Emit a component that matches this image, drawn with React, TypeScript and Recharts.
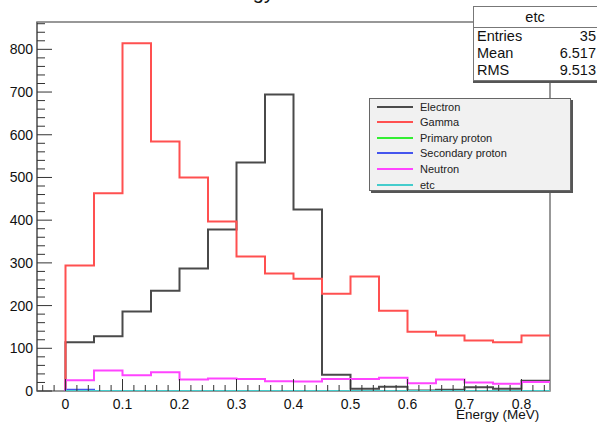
import React from 'react';
import { LineChart, Line, XAxis, YAxis, ReferenceArea } from 'recharts';

// lower edges of the 17 energy bins (MeV)
const binLowEdges = [0, 0.05, 0.1, 0.15, 0.2, 0.25, 0.3, 0.35, 0.4, 0.45, 0.5, 0.55, 0.6, 0.65, 0.7, 0.75, 0.8];
const binWidth = 0.05;

const electron = [114, 128, 186, 235, 287, 378, 535, 694, 425, 38, 5, 10, 1, 3, 9, 5, 24];
const gamma = [294, 463, 814, 584, 500, 397, 315, 275, 263, 228, 268, 188, 139, 130, 118, 114, 130];
const primaryProton = [0, 0, 0, 0, 0, 0, 0, 0, 0, 0, 0, 0, 0, 0, 0, 0, 0];
const secondaryProton = [3, 0, 0, 0, 0, 0, 0, 0, 0, 0, 0, 0, 0, 0, 0, 0, 0];
const neutron = [25, 48, 37, 44, 27, 29, 28, 23, 22, 28, 28, 31, 18, 27, 20, 17, 21];
const etc = [0, 0, 0, 0, 0, 0, 0, 0, 0, 0, 0, 0, 0, 0, 0, 0, 0];

const series = [
  { key: 'electron', name: 'Electron', color: '#4a4a4a', values: electron },
  { key: 'gamma', name: 'Gamma', color: '#ff5050', values: gamma },
  { key: 'primary', name: 'Primary proton', color: '#33ee33', values: primaryProton },
  { key: 'secondary', name: 'Secondary proton', color: '#4455ee', values: secondaryProton },
  { key: 'neutron', name: 'Neutron', color: '#ff44ff', values: neutron },
  { key: 'etc', name: 'etc', color: '#44cccc', values: etc },
];

const xLabels = [0, 0.1, 0.2, 0.3, 0.4, 0.5, 0.6, 0.7, 0.8];
const yLabels = [0, 100, 200, 300, 400, 500, 600, 700, 800];

const statsTitle = 'etc';
const statsRows = [
  ['Entries', '35'],
  ['Mean', '6.517'],
  ['RMS', '9.513'],
];

const xMin = -0.05;
const xMax = 0.85;
const yMax = 864;

// histogram outline: start at baseline on the first edge, step after each edge
const data: Record<string, number>[] = [];
{
  const first: Record<string, number> = { x: binLowEdges[0] };
  series.forEach((s) => (first[s.key] = 0));
  data.push(first);
  binLowEdges.forEach((edge, i) => {
    const row: Record<string, number> = { x: edge };
    series.forEach((s) => (row[s.key] = s.values[i]));
    data.push(row);
  });
  const last: Record<string, number> = { x: binLowEdges[binLowEdges.length - 1] + binWidth };
  series.forEach((s) => (last[s.key] = s.values[s.values.length - 1]));
  data.push(last);
}

const xTicks = Array.from({ length: 45 }, (_, i) => Math.round((-0.04 + i * 0.02) * 100) / 100);
const yTicks = Array.from({ length: 44 }, (_, i) => i * 20);

const font = '"Liberation Sans", Arial, Helvetica, sans-serif';

const XTick = (props: any) => {
  const { x, y, payload } = props;
  const v = payload.value;
  const major = xLabels.some((l) => Math.abs(l - v) < 1e-6);
  return (
    <g>
      <line x1={x} x2={x} y1={y} y2={y - (major ? 12 : 6)} stroke="#333" strokeWidth={1} />
      {major && (
        <text x={x} y={y + 18} textAnchor="middle" fontSize={14} fontFamily={font} fill="#111">
          {String(v)}
        </text>
      )}
    </g>
  );
};

const YTick = (props: any) => {
  const { x, y, payload } = props;
  const v = payload.value;
  const major = yLabels.includes(v);
  return (
    <g>
      <line x1={x} x2={x + (major ? 15 : 8)} y1={y} y2={y} stroke="#333" strokeWidth={1} />
      {major && (
        <text x={x - 4} y={y + 5} textAnchor="end" fontSize={14} fontFamily={font} fill="#111">
          {String(v)}
        </text>
      )}
    </g>
  );
};

export default function App() {
  return (
    <div
      style={{
        position: 'absolute',
        left: 0,
        top: 0,
        width: 597,
        height: 426,
        overflow: 'hidden',
        background: '#fff',
        fontFamily: font,
      }}
    >
      <div
        style={{
          position: 'absolute',
          left: 145,
          top: -18,
          fontSize: 20,
          lineHeight: '20px',
          whiteSpace: 'nowrap',
          color: '#111',
        }}
      >
        Kinetic Energy of Secondaries
      </div>

      <LineChart width={597} height={426} data={data} margin={{ top: 22, right: 47, bottom: 0, left: 0 }}>
        <XAxis
          dataKey="x"
          type="number"
          domain={[xMin, xMax]}
          ticks={xTicks}
          interval={0}
          allowDataOverflow
          height={35}
          tickSize={0}
          tickMargin={0}
          tickLine={false}
          axisLine={false}
          tick={<XTick />}
        />
        <YAxis
          type="number"
          domain={[0, yMax]}
          ticks={yTicks}
          interval={0}
          allowDataOverflow
          width={37}
          tickSize={0}
          tickMargin={0}
          tickLine={false}
          axisLine={{ stroke: '#777', strokeWidth: 2 }}
          tick={<YTick />}
        />
        <ReferenceArea x1={xMin} x2={xMax} y1={0} y2={yMax} fill="none" stroke="#777" strokeWidth={1.5} />
        {series.map((s) => (
          <Line
            key={s.key}
            dataKey={s.key}
            name={s.name}
            type="stepAfter"
            stroke={s.color}
            strokeWidth={2}
            dot={false}
            activeDot={false}
            isAnimationActive={false}
          />
        ))}
      </LineChart>

      <div
        style={{
          position: 'absolute',
          left: 369,
          top: 98,
          width: 200,
          height: 91,
          background: '#f1f1f1',
          border: '1px solid #666',
          boxShadow: '2px 2px 0 #555',
        }}
      >
        {series.map((s, i) => (
          <div
            key={s.key}
            style={{ position: 'absolute', left: 0, top: 0 + i * 15.6, height: 15, display: 'flex', alignItems: 'center' }}
          >
            <div style={{ marginLeft: 7, width: 36, height: 2, background: s.color }} />
            <span style={{ marginLeft: 7, fontSize: 11, color: '#222', whiteSpace: 'nowrap' }}>{s.name}</span>
          </div>
        ))}
      </div>

      <div
        style={{
          position: 'absolute',
          left: 473,
          top: 6,
          width: 130,
          height: 73,
          background: '#fff',
          border: '1px solid #777',
          boxShadow: '0 2px 0 #555',
          fontSize: 14.5,
          color: '#111',
        }}
      >
        <div style={{ height: 20, lineHeight: '20px', textAlign: 'center', paddingRight: 8, borderBottom: '1px solid #777' }}>
          {statsTitle}
        </div>
        {statsRows.map(([k, v]) => (
          <div key={k} style={{ height: 17, lineHeight: '17px', display: 'flex', justifyContent: 'space-between', paddingLeft: 3, width: 119 }}>
            <span>{k}</span>
            <span>{v}</span>
          </div>
        ))}
      </div>

      <div style={{ position: 'absolute', left: 456, top: 407, fontSize: 13.5, color: '#111', whiteSpace: 'nowrap' }}>
        Energy (MeV)
      </div>
    </div>
  );
}
